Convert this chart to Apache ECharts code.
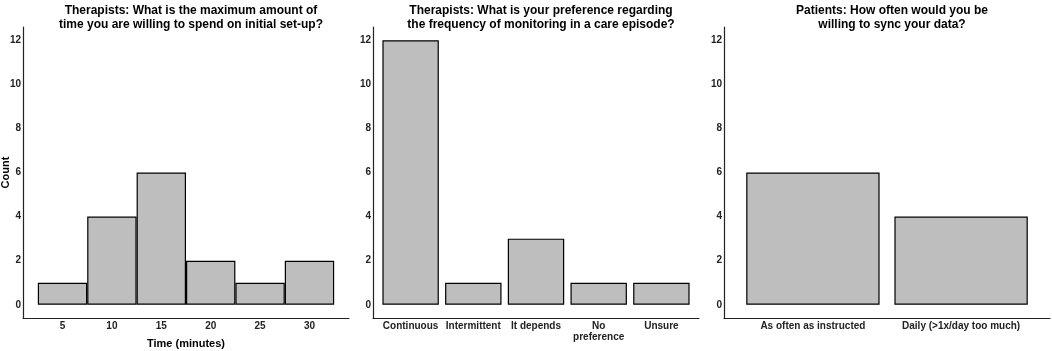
<!DOCTYPE html>
<html>
<head>
<meta charset="utf-8">
<script src="https://cdn.jsdelivr.net/npm/echarts@6/dist/echarts.min.js"></script>
<style>
  html, body { margin: 0; padding: 0; background: #fff; }
  #chart { width: 1052px; height: 351px; }
</style>
</head>
<body>
<div id="chart"></div>
<script>
  // panel 1: histogram of set-up time
  const timeBins = [5, 10, 15, 20, 25, 30];
  const timeCounts = [1, 4, 6, 2, 1, 2];

  // panel 2: monitoring frequency
  const freqCats = ['Continuous', 'Intermittent', 'It depends', 'No\npreference', 'Unsure'];
  const freqCounts = [12, 1, 3, 1, 1];

  // panel 3: sync frequency
  const syncCats = ['As often as instructed', 'Daily (>1x/day too much)'];
  const syncCounts = [6, 4];

  const yTicks = [0, 2, 4, 6, 8, 10, 12];

  const titles = [
    'Therapists: What is the maximum amount of\ntime you are willing to spend on initial set-up?',
    'Therapists: What is your preference regarding\nthe frequency of monitoring in a care episode?',
    'Patients: How often would you be\nwilling to sync your data?'
  ];

  const font = 'Liberation Sans, Arial, sans-serif';
  const axisColor = '#222';
  const panelLeft = [23, 373, 724];
  const panelWidth = 326;

  const labelStyle = {
    color: '#222', fontSize: 10, fontWeight: 'bold', fontFamily: font
  };

  function yAxis(i, withName) {
    return {
      type: 'value', gridIndex: i, min: -0.6, max: 12.6,
      name: withName ? 'Count' : '', nameLocation: 'middle', nameGap: 12,
      nameMoveOverlap: false,
      nameTextStyle: {color: '#000', fontSize: 11, fontWeight: 'bold', fontFamily: font},
      splitLine: {show: false},
      axisTick: {show: false},
      axisLine: {show: true, onZero: false, lineStyle: {color: axisColor, width: 1.2}},
      axisLabel: Object.assign({customValues: yTicks, margin: 2}, labelStyle)
    };
  }

  function catXAxis(i, cats) {
    return {
      type: 'value', gridIndex: i, min: 0.4, max: cats.length + 0.6,
      splitLine: {show: false},
      axisTick: {show: false},
      axisLine: {show: true, onZero: false, lineStyle: {color: axisColor, width: 1.2}},
      axisLabel: Object.assign({
        customValues: cats.map((c, k) => k + 1),
        margin: 3,
        lineHeight: 11,
        formatter: v => cats[Math.round(v) - 1] || ''
      }, labelStyle)
    };
  }

  const barStyle = {color: '#bebebe', borderColor: '#000', borderWidth: 1.2};

  const myChart = echarts.init(document.getElementById('chart'));
  myChart.setOption({
    animation: false,
    textStyle: {fontFamily: font},
    title: titles.map((t, i) => ({
      text: t,
      left: panelLeft[i] + panelWidth / 2,
      top: -1,
      textAlign: 'center',
      textStyle: {fontSize: 12, fontWeight: 'bold', color: '#000', lineHeight: 13.5, fontFamily: font}
    })),
    grid: panelLeft.map(l => ({
      left: l, width: panelWidth, top: 27, bottom: 33,
      outerBoundsMode: 'none', containLabel: false
    })),
    xAxis: [
      {
        type: 'value', gridIndex: 0, min: 1, max: 34,
        name: 'Time (minutes)', nameLocation: 'middle', nameGap: 20,
        nameTextStyle: {color: '#000', fontSize: 11, fontWeight: 'bold', fontFamily: font},
        splitLine: {show: false},
        axisTick: {show: false},
        axisLine: {show: true, onZero: false, lineStyle: {color: axisColor, width: 1.2}},
        axisLabel: Object.assign({customValues: timeBins, margin: 3}, labelStyle)
      },
      catXAxis(1, freqCats),
      catXAxis(2, syncCats)
    ],
    yAxis: [yAxis(0, true), yAxis(1, false), yAxis(2, false)],
    series: [
      {
        type: 'bar', xAxisIndex: 0, yAxisIndex: 0, barWidth: '100%',
        itemStyle: barStyle,
        data: timeBins.map((b, k) => [b, timeCounts[k]])
      },
      {
        type: 'bar', xAxisIndex: 1, yAxisIndex: 1, barWidth: '90%',
        itemStyle: barStyle,
        data: freqCounts.map((v, k) => [k + 1, v])
      },
      {
        type: 'bar', xAxisIndex: 2, yAxisIndex: 2, barWidth: '90%',
        itemStyle: barStyle,
        data: syncCounts.map((v, k) => [k + 1, v])
      }
    ]
  });
</script>
</body>
</html>
